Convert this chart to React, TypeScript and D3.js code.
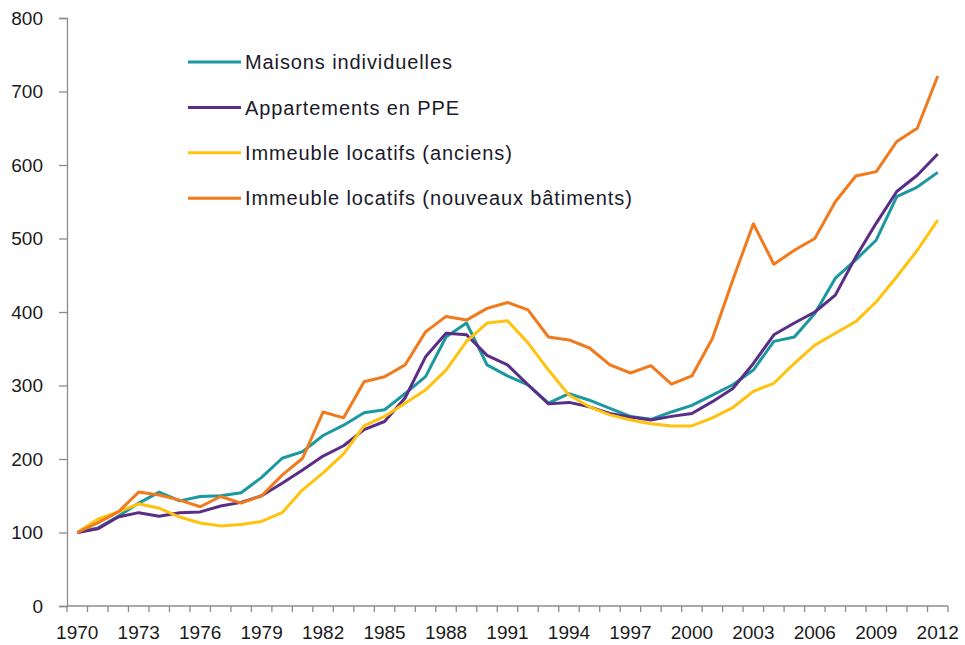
import React, { useEffect, useRef } from "react";
import * as d3 from "d3";

const years = d3.range(1970, 2013);

const maisons = [
  100, 106, 122, 140, 155, 143, 149, 150, 154, 175, 201, 210, 232, 246, 263, 267, 289, 312, 366, 385,
  328, 313, 301, 276, 289, 280, 269, 258, 254, 264, 273, 287, 301, 321, 360, 366, 398, 446, 471, 498,
  557, 570, 590,
];
const appartements = [
  100, 105, 121, 127, 122, 127, 128, 136, 141, 150, 167, 185, 204, 218, 240, 251, 283, 339, 371, 369,
  341, 328, 301, 275, 277, 271, 262, 257, 253, 258, 262, 278, 296, 330, 369, 385, 400, 423, 475, 521,
  564, 586, 615,
];
const anciens = [
  100, 118, 128, 139, 133, 121, 113, 109, 111, 115, 127, 158, 181, 207, 245, 258, 276, 294, 321, 360,
  385, 388, 358, 321, 287, 271, 260, 253, 248, 245, 245, 256, 270, 292, 303, 330, 355, 371, 387, 414,
  448, 484, 525,
];
const nouveaux = [
  100, 113, 128, 155, 151, 144, 135, 149, 140, 150, 178, 201, 264, 256, 305, 312, 328, 373, 394, 389,
  405, 413, 403, 366, 362, 351, 328, 317, 327, 302, 313, 364, 444, 520, 465, 484, 500, 550, 585, 591,
  632, 650, 721,
];

const seriesNames = [
  "Maisons individuelles",
  "Appartements en PPE",
  "Immeuble locatifs (anciens)",
  "Immeuble locatifs (nouveaux bâtiments)",
];
const seriesValues = [maisons, appartements, anciens, nouveaux];
const colors = ["#1b98a0", "#5a2d87", "#ffc20e", "#f07a1c"];
const xLabels = d3.range(1970, 2013, 3);
const yTicks = d3.range(0, 801, 100);

export default function App() {
  const ref = useRef<SVGSVGElement>(null);

  useEffect(() => {
    const svg = d3.select(ref.current);
    svg.selectAll("*").remove();

    const left = 67;
    const right = 948;
    const top = 18;
    const bottom = 606;
    const font = "'Liberation Sans', Arial, sans-serif";

    const x = d3.scaleBand<number>().domain(years).range([left, right]).padding(0);
    const y = d3.scaleLinear().domain([0, 800]).range([bottom, top]);
    const cx = (yr: number) => (x(yr) as number) + x.bandwidth() / 2;

    // y axis
    const gy = svg.append("g").attr("transform", `translate(${left},0)`);
    gy.call(d3.axisLeft(y).tickValues(yTicks).tickSize(8).tickPadding(16).tickFormat(d3.format("d")));
    gy.select(".domain").attr("stroke", "#8c8c8c").attr("stroke-width", 1.3);
    gy.selectAll(".tick line").attr("stroke", "#8c8c8c").attr("stroke-width", 1.3);
    gy.selectAll(".tick text").attr("font-size", 19).attr("font-family", font).attr("fill", "#1a1a1a");

    // x axis, ticks at band boundaries
    const gx = svg.append("g").attr("transform", `translate(0,${bottom})`);
    gx.append("line").attr("x1", left).attr("x2", right).attr("stroke", "#8c8c8c").attr("stroke-width", 1.3);
    gx.selectAll("line.tk")
      .data(years.concat([2013]))
      .enter()
      .append("line")
      .attr("class", "tk")
      .attr("x1", (d) => (d === 2013 ? right : (x(d) as number)))
      .attr("x2", (d) => (d === 2013 ? right : (x(d) as number)))
      .attr("y1", 0)
      .attr("y2", 6)
      .attr("stroke", "#8c8c8c")
      .attr("stroke-width", 1.3);
    gx.selectAll("text")
      .data(xLabels)
      .enter()
      .append("text")
      .attr("x", (d) => cx(d))
      .attr("y", 33)
      .attr("text-anchor", "middle")
      .attr("font-size", 19)
      .attr("font-family", font)
      .attr("fill", "#1a1a1a")
      .text((d) => d);

    // lines
    const line = d3
      .line<number>()
      .x((_, i) => cx(years[i]))
      .y((d) => y(d));

    svg
      .append("g")
      .selectAll("path")
      .data(seriesValues)
      .enter()
      .append("path")
      .attr("d", (d) => line(d))
      .attr("fill", "none")
      .attr("stroke", (_, i) => colors[i])
      .attr("stroke-width", 3)
      .attr("stroke-linejoin", "round");

    // legend
    const legend = svg
      .append("g")
      .selectAll("g")
      .data(seriesNames)
      .enter()
      .append("g")
      .attr("transform", (_, i) => `translate(188, ${62 + i * 45.4})`);
    legend
      .append("line")
      .attr("x1", 0)
      .attr("x2", 53)
      .attr("stroke", (_, i) => colors[i])
      .attr("stroke-width", 3);
    legend
      .append("text")
      .attr("x", 57)
      .attr("dy", "0.36em")
      .attr("font-size", 20)
      .attr("letter-spacing", 0.9)
      .attr("font-family", font)
      .attr("fill", "#1a1a2a")
      .text((d) => d);
  }, []);

  return (
    <div style={{ position: "absolute", left: 0, top: 0 }}>
      <svg ref={ref} width={965} height={645} style={{ display: "block" }}></svg>
    </div>
  );
}
